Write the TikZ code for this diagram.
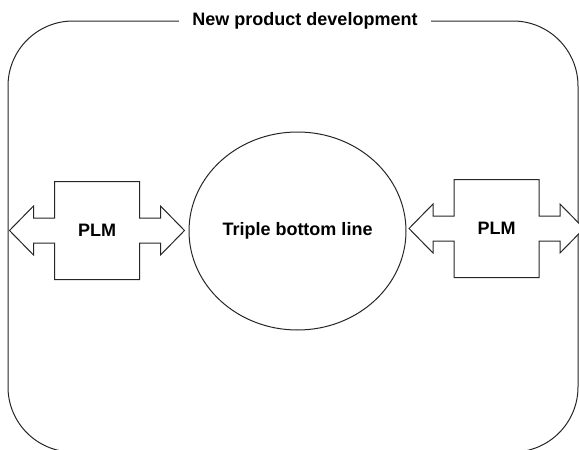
\documentclass[tikz,border=0pt]{standalone}
\usepackage{fontspec}
\setmainfont{Liberation Sans}
\usetikzlibrary{shapes.geometric}
% one unit = one pixel of the reference
\newcommand{\plmarrow}[2]{%
	\draw[arrowbox, shift={(#1,#2)}]
	(-87.5,0) -- (-63.5,-24.5) -- (-63.5,-12.5) -- (-42.5,-12.5) -- (-42.5,-49)
	-- (42.5,-49) -- (42.5,-12.5) -- (63.5,-12.5) -- (63.5,-24.5) -- (87.5,0)
	-- (63.5,24.5) -- (63.5,12.5) -- (42.5,12.5) -- (42.5,49)
	-- (-42.5,49) -- (-42.5,12.5) -- (-63.5,12.5) -- (-63.5,24.5) -- cycle;}

\begin{document}
\begin{tikzpicture}[
	x=1pt, y=-1pt,
	font=\fontsize{18}{21}\selectfont\bfseries,
	% Styles for the frame, the arrows and the ellipse
	frame/.style={draw=black!85, line width=1pt, rounded corners=65pt},
	arrowbox/.style={draw=black!85, line width=1pt, fill=white},
	ring/.style={draw=black!85, line width=1pt, ellipse, inner sep=0pt, minimum width=217pt, minimum height=198pt},
	title/.style={fill=white, inner xsep=13pt, inner ysep=2pt}
	]
	\useasboundingbox (0,0) rectangle (579,450);
	
	% ==========================================
	% 1. OUTER FRAME
	% ==========================================
	\draw[frame] (8,21) rectangle (578,452);
	\node[title] (npd) at (305,21) {New product development};
	
	% ==========================================
	% 2. PLM ARROWS
	% ==========================================
	\plmarrow{97}{230.5}
	\node (plmL) at (97,230.5) {PLM};
	
	\plmarrow{496.5}{228.5}
	\node (plmR) at (496.5,228.5) {PLM};
	
	% ==========================================
	% 3. TRIPLE BOTTOM LINE
	% ==========================================
	\node[ring] (tbl) at (297.5,231) {Triple bottom line};
	
\end{tikzpicture}
\end{document}
